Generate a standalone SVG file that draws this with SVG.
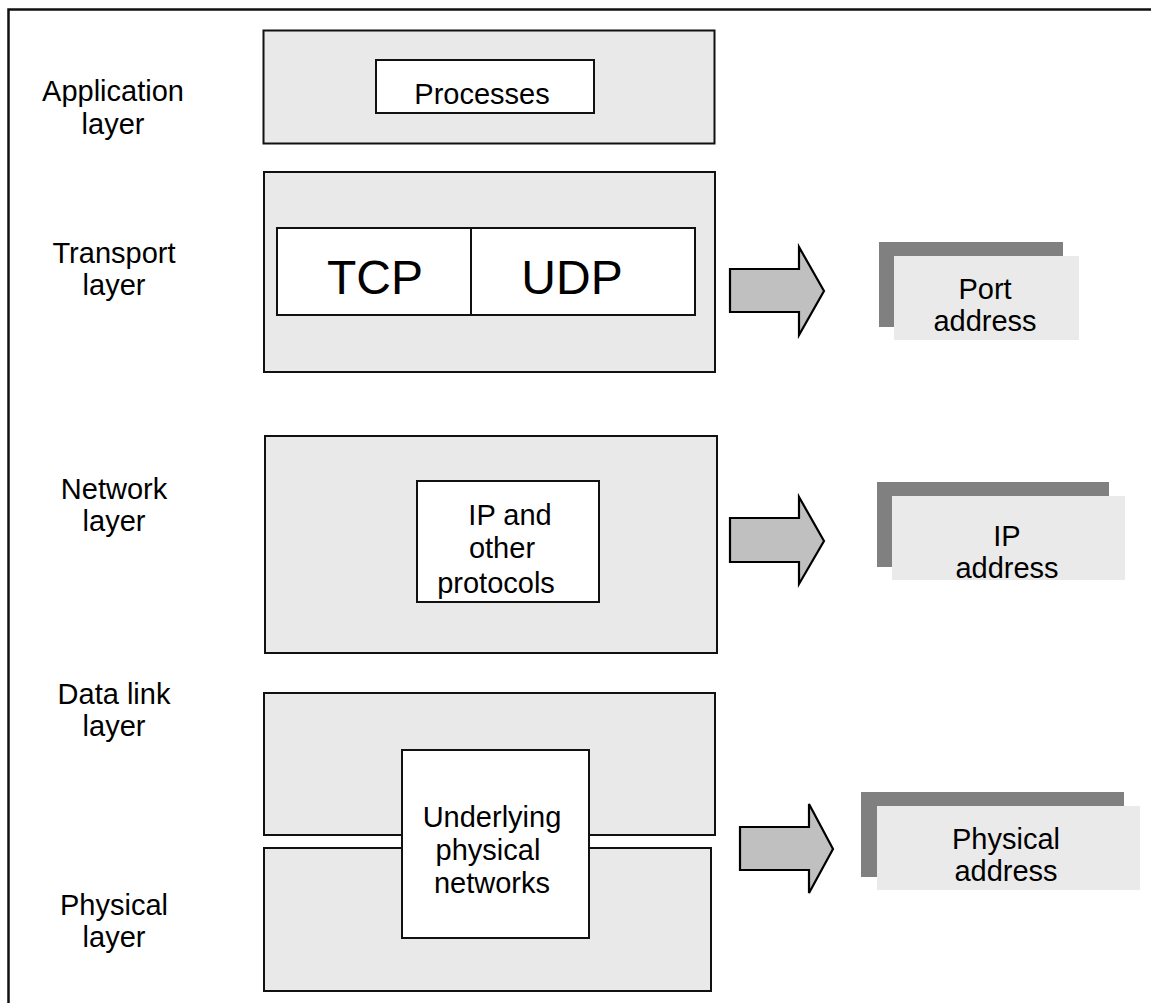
<svg xmlns="http://www.w3.org/2000/svg" width="1151" height="1003" viewBox="0 0 1151 1003">
<style>
  text { font-family: "Liberation Sans", Arial, sans-serif; font-size: 29px; fill: #000; text-anchor: middle; }
  .big { font-size: 48px; }
  .layer { fill: #e9e9e9; stroke: #111; stroke-width: 2; }
  .inner { fill: #fff; stroke: #111; stroke-width: 2; }
  .shadow { fill: #808080; }
  .card { fill: #eaeaea; }
  .arrow { fill: #c0c0c0; stroke: #000; stroke-width: 2.2; stroke-linejoin: miter; }
</style>
<rect x="0" y="0" width="1151" height="1003" fill="#fff"/>
<rect x="8.5" y="9.5" width="1170" height="1020" fill="none" stroke="#111" stroke-width="2.5"/>

<g id="labels">
  <text x="113" y="101">Application</text>
  <text x="113" y="134">layer</text>
  <text x="114" y="263">Transport</text>
  <text x="114" y="295">layer</text>
  <text x="114" y="499">Network</text>
  <text x="114" y="531">layer</text>
  <text x="114" y="704">Data link</text>
  <text x="114" y="736">layer</text>
  <text x="114" y="915">Physical</text>
  <text x="114" y="947">layer</text>
</g>

<g id="application">
  <rect class="layer" x="263.5" y="30.5" width="451" height="113"/>
  <g id="processes">
    <rect class="inner" x="376" y="60" width="218" height="53"/>
    <text x="482" y="104">Processes</text>
  </g>
</g>

<g id="transport">
  <rect class="layer" x="264" y="172" width="451" height="200"/>
  <g id="tcp-udp">
    <rect class="inner" x="277" y="228" width="418" height="87"/>
    <line x1="471" y1="228" x2="471" y2="315" stroke="#111" stroke-width="2"/>
    <text class="big" x="375" y="294">TCP</text>
    <text class="big" x="572" y="294">UDP</text>
  </g>
</g>

<g id="network">
  <rect class="layer" x="265" y="436" width="452" height="217"/>
  <g id="ip">
    <rect class="inner" x="417" y="481" width="182" height="121"/>
    <text x="510" y="525">IP and</text>
    <text x="502" y="558">other</text>
    <text x="496" y="593">protocols</text>
  </g>
</g>

<g id="datalink">
  <rect class="layer" x="264" y="693" width="451" height="142"/>
</g>
<g id="physical">
  <rect class="layer" x="264" y="848" width="447" height="143"/>
</g>
<g id="underlying">
  <rect class="inner" x="402" y="750" width="187" height="188"/>
  <text x="492" y="827">Underlying</text>
  <text x="488" y="860">physical</text>
  <text x="492" y="893">networks</text>
</g>

<g id="connectors">
  <polygon class="arrow" points="730,269 799,269 799,247 824,291 799,335 799,312 730,312"/>
  <polygon class="arrow" points="730,518 799,518 799,497 824,541 799,584 799,562 730,562"/>
  <polygon class="arrow" points="740,827 809,827 809,804 833,849 809,893 809,870 740,870"/>
</g>

<g id="port-address">
  <rect class="shadow" x="879" y="242" width="184" height="85"/>
  <rect class="card" x="894" y="256" width="185" height="84"/>
  <text x="985" y="299">Port</text>
  <text x="985" y="331">address</text>
</g>

<g id="ip-address">
  <rect class="shadow" x="877" y="482" width="232" height="85"/>
  <rect class="card" x="892" y="496" width="233" height="84"/>
  <text x="1007" y="546">IP</text>
  <text x="1007" y="578">address</text>
</g>

<g id="physical-address">
  <rect class="shadow" x="861" y="792" width="263" height="85"/>
  <rect class="card" x="877" y="806" width="263" height="84"/>
  <text x="1006" y="849">Physical</text>
  <text x="1006" y="881">address</text>
</g>
</svg>
